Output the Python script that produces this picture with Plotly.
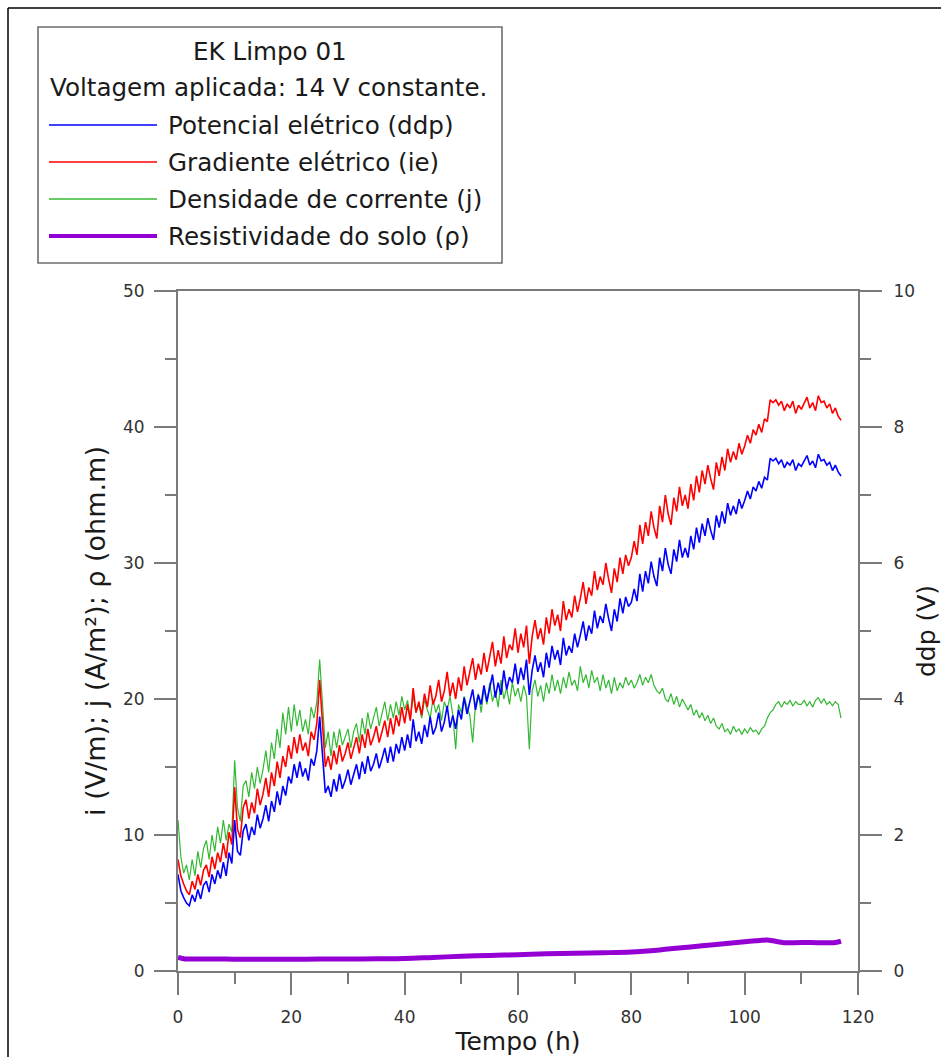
import plotly.graph_objects as go

# ---------------- data ----------------
# samples every 0.5 h from 0 to 117 h
tempo_h = [i * 0.5 for i in range(235)]

gradiente_ie = [
    8.2, 7.0, 6.4, 5.9, 5.6, 6.6, 6.0, 7.1, 6.3, 7.4, 7.8, 6.9, 8.4, 7.5, 8.7, 8.0, 9.4, 8.3, 10.2, 9.3,
    13.5, 10.4, 9.8, 12.0, 12.6, 11.2, 12.4, 11.6, 13.4, 12.2, 13.0, 14.2, 12.8, 14.6, 13.6, 15.4, 14.2, 15.8, 15.0, 16.6,
    15.6, 17.2, 16.0, 17.4, 16.2, 16.8, 15.8, 17.6, 17.0, 18.2, 21.4, 18.0, 15.0, 15.8, 14.8, 16.2, 15.2, 16.6, 15.4, 16.0,
    16.8, 15.6, 16.4, 17.2, 16.0, 17.4, 16.4, 17.8, 16.6, 17.2, 18.0, 16.8, 17.6, 18.4, 17.2, 18.6, 17.4, 18.8, 18.0, 19.4,
    18.2, 19.6, 18.4, 20.8, 19.0, 19.8, 18.8, 20.4, 19.4, 21.0, 19.6, 20.2, 21.4, 19.8, 20.6, 22.0, 20.2, 21.2, 20.0, 21.6,
    20.6, 22.4, 21.0, 22.0, 23.0, 21.4, 22.6, 21.8, 23.4, 22.0, 23.0, 24.2, 22.4, 23.6, 22.6, 24.6, 23.0, 24.0, 23.6, 25.2,
    23.4, 24.8, 23.8, 25.4, 22.6, 24.6, 25.8, 24.4, 25.2, 24.0, 26.0, 24.8, 26.6, 25.4, 26.2, 25.0, 27.2, 25.8, 26.6, 26.0,
    27.6, 26.4, 27.4, 28.6, 27.0, 28.2, 27.6, 29.4, 28.0, 29.0, 28.4, 30.0, 28.8, 27.8, 29.6, 28.6, 30.4, 29.2, 30.6, 29.8,
    30.4, 31.6, 30.6, 32.8, 31.4, 33.0, 32.0, 33.8, 32.6, 31.8, 34.2, 33.0, 35.0, 33.6, 32.8, 34.8, 33.8, 35.6, 34.2, 35.0,
    34.0, 35.8, 34.6, 36.4, 35.2, 36.8, 35.8, 37.2, 36.2, 35.4, 37.4, 36.4, 37.8, 36.8, 38.4, 37.4, 38.2, 37.6, 38.8, 38.0,
    38.6, 39.4, 38.8, 39.8, 39.4, 40.2, 39.6, 40.6, 40.4, 42.0, 41.8, 42.0, 41.6, 41.9, 41.2, 41.7, 41.4, 41.9, 41.0, 41.6,
    41.3, 41.8, 42.2, 41.4, 41.8, 41.2, 42.3, 41.8, 41.9, 41.4, 41.7, 41.0, 41.4, 40.8, 40.5,
]

potencial_ddp_V = [
    1.42, 1.18, 1.08, 1.00, 0.96, 1.12, 1.02, 1.20, 1.06, 1.26, 1.32, 1.16, 1.42, 1.28, 1.48, 1.36, 1.60, 1.40, 1.74, 1.58,
    2.22, 1.76, 1.70, 2.06, 2.16, 1.92, 2.12, 2.00, 2.30, 2.10, 2.24, 2.44, 2.20, 2.50, 2.34, 2.64, 2.44, 2.72, 2.58, 2.86,
    2.76, 3.04, 2.84, 3.08, 2.86, 2.98, 2.80, 3.12, 3.02, 3.24, 3.74, 3.10, 2.62, 2.72, 2.56, 2.82, 2.64, 2.90, 2.68, 2.80,
    2.96, 2.74, 2.90, 3.04, 2.82, 3.08, 2.90, 3.16, 2.94, 3.04, 3.20, 2.98, 3.12, 3.28, 3.06, 3.30, 3.08, 3.34, 3.20, 3.44,
    3.24, 3.48, 3.28, 3.70, 3.38, 3.52, 3.34, 3.62, 3.44, 3.74, 3.48, 3.58, 3.80, 3.52, 3.66, 3.90, 3.58, 3.76, 3.56, 3.84,
    3.70, 4.02, 3.78, 3.96, 4.14, 3.84, 4.06, 3.92, 4.20, 3.96, 4.14, 4.36, 4.02, 4.24, 4.06, 4.42, 4.14, 4.32, 4.24, 4.52,
    4.22, 4.46, 4.28, 4.58, 4.06, 4.42, 4.64, 4.40, 4.54, 4.32, 4.68, 4.46, 4.78, 4.58, 4.72, 4.50, 4.90, 4.64, 4.78, 4.68,
    4.96, 4.76, 4.94, 5.14, 4.86, 5.08, 4.96, 5.30, 5.04, 5.22, 5.12, 5.40, 5.18, 5.00, 5.32, 5.14, 5.48, 5.26, 5.50, 5.36,
    5.42, 5.62, 5.44, 5.84, 5.58, 5.88, 5.70, 6.02, 5.80, 5.66, 6.08, 5.88, 6.22, 5.98, 5.84, 6.20, 6.02, 6.34, 6.08, 6.22,
    6.08, 6.40, 6.20, 6.52, 6.30, 6.58, 6.40, 6.66, 6.48, 6.34, 6.70, 6.52, 6.76, 6.58, 6.88, 6.70, 6.84, 6.72, 6.94, 6.80,
    6.92, 7.06, 6.94, 7.12, 7.06, 7.20, 7.10, 7.26, 7.22, 7.54, 7.50, 7.54, 7.46, 7.52, 7.40, 7.48, 7.44, 7.52, 7.36, 7.46,
    7.42, 7.50, 7.58, 7.44, 7.50, 7.40, 7.60, 7.50, 7.52, 7.44, 7.48, 7.36, 7.44, 7.34, 7.28,
]

densidade_j = [
    11.1, 8.4, 7.2, 7.8, 6.7, 8.2, 7.0, 8.8, 7.6, 9.0, 9.6, 8.2, 10.0, 8.8, 10.6, 9.4, 11.1, 9.6, 10.8, 10.2,
    15.5, 12.0, 11.0, 13.6, 14.0, 12.8, 14.6, 13.4, 15.0, 13.8, 14.8, 16.2, 14.6, 16.8, 15.6, 17.8, 16.4, 19.0, 17.4, 19.4,
    17.6, 19.6, 18.0, 19.2, 17.6, 18.5, 17.4, 19.4, 18.6, 19.8, 22.9, 20.0, 16.4, 17.6, 15.8, 17.6, 16.4, 17.8, 16.6, 17.2,
    17.8, 16.4, 17.6, 18.2, 16.8, 18.6, 17.4, 19.0, 17.8, 18.6, 19.4, 18.0, 19.0, 19.8, 18.4, 19.6, 18.6, 19.8, 18.8, 20.2,
    19.2, 19.9, 18.6, 20.2, 19.0, 19.6, 18.6, 20.0, 19.2, 18.6, 20.0, 19.0, 19.6, 18.4, 19.8, 19.2, 20.2, 18.8, 16.3, 19.6,
    19.0, 20.2, 19.4, 18.8, 16.8, 19.6, 20.4, 19.0, 20.8, 19.6, 21.2, 19.8, 20.6, 19.4, 21.4, 20.0, 20.8, 19.6, 21.2, 20.2,
    20.8, 19.8, 21.0, 20.2, 16.3, 20.6, 21.4, 20.2, 21.0, 19.8, 21.2, 20.4, 21.8, 20.6, 21.4, 20.4, 21.6, 20.8, 22.0, 21.0,
    21.4, 20.6, 22.4, 21.2, 21.8, 20.8, 22.1, 21.2, 21.6, 20.6, 21.8, 20.8, 21.4, 20.4, 21.6, 20.6, 21.2, 20.8, 21.6, 21.0,
    21.4, 20.8, 21.2, 21.8, 21.0, 21.6, 21.2, 21.8, 21.0, 20.6, 20.4, 20.8, 20.0, 19.8, 20.4, 19.6, 20.2, 19.4, 20.0, 19.6,
    19.2, 19.6, 18.8, 19.2, 18.6, 19.0, 18.4, 18.8, 18.2, 18.6, 18.0, 17.8, 18.2, 17.6, 17.8, 17.4, 18.0, 17.6, 17.8, 17.4,
    17.8, 17.5, 17.9, 17.6, 17.7, 17.4, 17.8, 18.0, 18.6, 19.0, 19.2, 19.6, 19.8, 19.4, 19.8, 19.6, 19.9, 19.5, 19.8, 19.6,
    19.6, 19.9, 19.5, 19.8, 19.4, 19.9, 20.1, 19.7, 20.0, 19.6, 19.8, 19.5, 19.8, 19.6, 18.6,
]

rho_t = [0, 1, 2, 5, 10, 15, 20, 25, 30, 35, 40, 45, 50, 55, 60, 65, 70,
         75, 80, 85, 90, 95, 100, 102, 104, 105, 107, 110, 113, 116, 117]
resistividade_rho = [1.0, 0.9, 0.88, 0.88, 0.87, 0.86, 0.86, 0.88, 0.88, 0.9,
                     0.92, 1.0, 1.08, 1.14, 1.2, 1.26, 1.3, 1.34, 1.4, 1.55,
                     1.75, 1.95, 2.15, 2.22, 2.28, 2.22, 2.08, 2.1, 2.08, 2.1, 2.2]

x_ticks = [0, 20, 40, 60, 80, 100, 120]
y_ticks = [0, 10, 20, 30, 40, 50]
y2_ticks = [0, 2, 4, 6, 8, 10]

legend_title = ["EK Limpo 01", "Voltagem aplicada: 14 V constante."]
legend_names = ["Potencial elétrico (ddp)", "Gradiente elétrico (ie)",
                "Densidade de corrente (j)", "Resistividade do solo (ρ)"]
colors = ["#0000FF", "#FF0000", "#33B833", "#9400D3"]
widths = [1.6, 1.6, 1.2, 5]

# ---------------- figure ----------------
W, H = 941, 1057
L, R, T, B = 178, 858, 291, 971
FONT = "DejaVu Sans"
AX = "#7a7a7a"
TXT = "#1a1a1a"
TICK_TXT = "#333333"

fig = go.Figure()
fig.add_trace(go.Scatter(x=tempo_h, y=densidade_j, mode="lines",
                         line=dict(color=colors[2], width=widths[2]),
                         name=legend_names[2], showlegend=False))
fig.add_trace(go.Scatter(x=tempo_h, y=gradiente_ie, mode="lines",
                         line=dict(color=colors[1], width=widths[1]),
                         name=legend_names[1], showlegend=False))
fig.add_trace(go.Scatter(x=tempo_h, y=potencial_ddp_V, mode="lines", yaxis="y2",
                         line=dict(color=colors[0], width=widths[0]),
                         name=legend_names[0], showlegend=False))
fig.add_trace(go.Scatter(x=rho_t, y=resistividade_rho, mode="lines",
                         line=dict(color=colors[3], width=widths[3], shape="spline"),
                         name=legend_names[3], showlegend=False))


def px(xp):
    return (xp - L) / (R - L)


def py(yp):
    return (B - yp) / (B - T)


shapes = []
annotations = []

# outer frame (top and left visible)
shapes.append(dict(type="line", xref="paper", yref="paper", x0=px(8), x1=px(960),
                   y0=py(8), y1=py(8), line=dict(color="black", width=1.5)))
shapes.append(dict(type="line", xref="paper", yref="paper", x0=px(8), x1=px(8),
                   y0=py(8), y1=py(1070), line=dict(color="black", width=1.5)))

# legend box
shapes.append(dict(type="rect", xref="paper", yref="paper",
                   x0=px(38), x1=px(502), y0=py(263), y1=py(27),
                   line=dict(color="#6e6e6e", width=1.6), fillcolor="white"))
annotations.append(dict(xref="paper", yref="paper", x=px(270), y=py(52),
                        text=legend_title[0], showarrow=False, xanchor="center",
                        yanchor="middle", font=dict(family=FONT, size=24.6, color=TXT)))
annotations.append(dict(xref="paper", yref="paper", x=px(48), y=py(88),
                        text=legend_title[1], showarrow=False, xanchor="left",
                        yanchor="middle", font=dict(family=FONT, size=24.6, color=TXT)))
item_y = [125, 162, 199, 236]
for i, (nm, c, w) in enumerate(zip(legend_names, colors, widths)):
    yy = item_y[i]
    shapes.append(dict(type="line", xref="paper", yref="paper",
                       x0=px(49), x1=px(157), y0=py(yy), y1=py(yy),
                       line=dict(color=c, width=1.4 if i < 3 else 4)))
    annotations.append(dict(xref="paper", yref="paper", x=px(166), y=py(yy),
                            text=nm, showarrow=False, xanchor="left", yanchor="middle",
                            font=dict(family=FONT, size=24.6, color=TXT)))

common_axis = dict(ticks="outside", ticklen=22, tickwidth=1.5, tickcolor=AX,
                   showline=True, linecolor=AX, linewidth=2, showgrid=False,
                   zeroline=False, automargin=False,
                   tickfont=dict(family=FONT, size=17, color=TICK_TXT))

fig.update_layout(
    width=W, height=H,
    margin=dict(l=L, r=W - R, t=T, b=H - B, pad=0),
    paper_bgcolor="white", plot_bgcolor="white",
    font=dict(family=FONT, size=16, color=TICK_TXT),
    showlegend=False,
    shapes=shapes,
    annotations=annotations,
    xaxis=dict(range=[0, 120], tickvals=x_ticks, mirror=True, ticklabelstandoff=8,
               minor=dict(dtick=10, ticks="outside", ticklen=11, tickwidth=1.5,
                          tickcolor=AX, showgrid=False),
               title=dict(text="Tempo (h)", font=dict(family=FONT, size=25, color=TXT), standoff=6),
               **common_axis),
    yaxis=dict(range=[0, 50], tickvals=y_ticks, ticklabelstandoff=6,
               minor=dict(dtick=5, ticks="outside", ticklen=11, tickwidth=1.5,
                          tickcolor=AX, showgrid=False),
               title=dict(text="i (V/m); j (A/m²); ρ (ohm.m)",
                          font=dict(family=FONT, size=27, color=TXT), standoff=10),
               **common_axis),
    yaxis2=dict(range=[0, 10], tickvals=y2_ticks, overlaying="y", side="right",
                ticklabelstandoff=8,
                minor=dict(dtick=1, ticks="outside", ticklen=11, tickwidth=1.5,
                           tickcolor=AX, showgrid=False),
                title=dict(text="ddp (V)", font=dict(family=FONT, size=25, color=TXT), standoff=8),
                **common_axis),
)

fig.write_html("out.html")
